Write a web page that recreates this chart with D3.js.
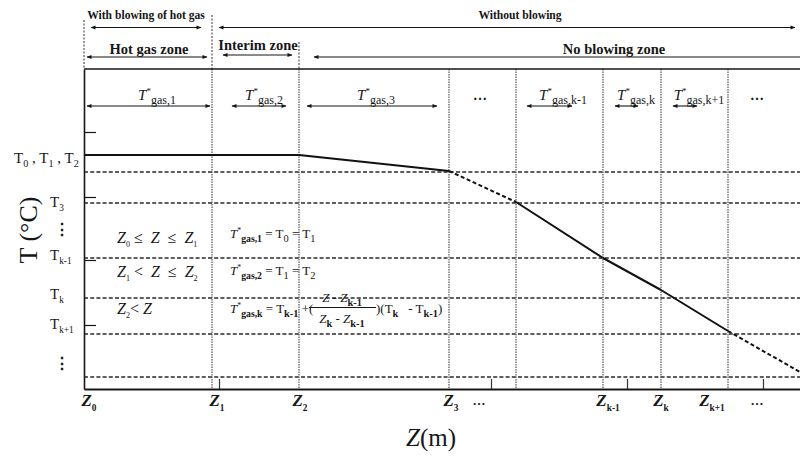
<!DOCTYPE html>
<html>
<head>
<meta charset="utf-8">
<script src="https://cdn.jsdelivr.net/npm/d3@7/dist/d3.min.js"></script>
<style>
  html, body { margin: 0; padding: 0; background: #fff; }
  svg { display: block; }
  text { font-family: 'Liberation Serif', 'Times New Roman', serif; fill: #161616; white-space: pre; }
</style>
</head>
<body>
<svg id="chart" width="800" height="459"></svg>
<script>
// ---------------- data (schematic units) ----------------
const boundaryZ = [0, 1.28, 2.15, 3.65, 4.32, 5.19, 5.77, 6.44];
const zLabelNames = ["Z", "Z", "Z", "Z", "Z", "Z", "Z"];
const zLabelSubs  = ["0", "1", "2", "3", "k-1", "k", "k+1"];
const zLabelAt    = [0.05, 1.33, 2.16, 3.67, 5.24, 5.77, 6.28];
const zEllipsisAt = [3.95, 6.73];
const zMinorTicks = [1.35, 4.07, 5.43, 6.79];

const curveZ = [0, 2.15, 3.65, 4.32, 5.19, 5.77, 6.44, 7.16];
const curveT = [23.4, 23.4, 21.8, 18.7, 13.1, 9.9, 5.8, 1.7];
const segDashed = [false, false, true, false, false, false, true];

const levelT = [21.7, 18.6, 13.1, 9.1, 5.5, 1.2];
const yTicks = [25.7, 19.2, 12.9, 6.4];
const yLabelText = ["T0,T1,T2", "T3", "⋮", "Tk-1", "Tk", "Tk+1", "⋮"];
const yLabelAt   = [23.1, 18.7, 16.0, 13.4, 9.5, 6.5, 2.6];

const zoneRow1Labels = ["With blowing of hot gas", "Without blowing"];
const zoneRow1From   = [0.07, 1.35];
const zoneRow1To     = [1.17, 7.11];
const zoneRow1Mid    = [0.62, 4.36];
const zoneRow2Labels = ["Hot gas zone", "Interim zone", "No blowing zone"];
const zoneRow2From   = [0.03, 1.39, 2.30];
const zoneRow2To     = [1.23, 2.08, 7.20];
const zoneRow2Mid    = [0.65, 1.74, 5.30];

const gasSubs = ["gas,1", "gas,2", "gas,3", null, "gas,k-1", "gas,k", "gas,k+1", null];
const gasMid  = [0.73, 1.80, 2.92, 3.96, 4.79, 5.52, 6.15, 6.73];
const gasFrom = [0.03, 1.48, 2.23, null, 4.43, 5.31, 5.89, null];
const gasTo   = [1.26, 2.02, 3.53, null, 4.88, 5.54, 6.13, null];

// ---------------- layout ----------------
const svg = d3.select("#chart");
const padL = 84, padR = 800, padT = 69, padB = 389;
const x = d3.scaleLinear().domain([0, 7.16]).range([padL, padR]);
const y = d3.scaleLinear().domain([0, 32]).range([padB, padT]);
const ink = "#161616";

const defs = svg.append("defs");
defs.append("marker")
  .attr("id", "ah").attr("viewBox", "0 0 10 10").attr("refX", 9).attr("refY", 5)
  .attr("markerWidth", 6).attr("markerHeight", 5).attr("orient", "auto-start-reverse")
  .attr("markerUnits", "userSpaceOnUse")
  .append("path").attr("d", "M0,1 L10,5 L0,9 Z").attr("fill", ink);

function rich(sel, parts, size) {
  let shift = 0;
  parts.forEach(p => {
    const target = p.sub ? size * 0.28 : p.sup ? -size * 0.42 : 0;
    const ts = sel.append("tspan").attr("dy", target - shift).text(p.t);
    shift = target;
    if (p.sub || p.sup) ts.attr("font-size", (p.fs || 0.68) * size);
    if (p.i) ts.attr("font-style", "italic");
    if (p.b) ts.attr("font-weight", "bold");
    if (p.dx) ts.attr("dx", p.dx);
  });
  return sel;
}
function splitT(label) { return [label[0], label.slice(1)]; }

// ---------------- grid ----------------
svg.append("g").selectAll("line").data(levelT).join("line")
  .attr("x1", padL).attr("x2", padR)
  .attr("y1", d => y(d)).attr("y2", d => y(d))
  .attr("stroke", "#2a2a2a").attr("stroke-width", 1.3).attr("stroke-dasharray", "4,2.2");

svg.append("g").selectAll("line").data(boundaryZ.slice(1)).join("line")
  .attr("x1", d => x(d)).attr("x2", d => x(d))
  .attr("y1", padT).attr("y2", padB)
  .attr("stroke", "#555").attr("stroke-width", 1.2).attr("stroke-dasharray", "1.5,1");

const headerTop = [20, 15, 42];
svg.append("g").selectAll("line").data(boundaryZ.slice(0, 3)).join("line")
  .attr("x1", d => x(d)).attr("x2", d => x(d))
  .attr("y1", (d, i) => headerTop[i]).attr("y2", padT)
  .attr("stroke", "#444").attr("stroke-width", 1.1).attr("stroke-dasharray", "2,1.5");

svg.append("line").attr("x1", padL).attr("x2", padR).attr("y1", padT).attr("y2", padT)
  .attr("stroke", ink).attr("stroke-width", 1.6);

// ---------------- axes ----------------
const yAxis = svg.append("g").attr("transform", `translate(${padL},0)`)
  .call(d3.axisLeft(y).tickValues(yTicks).tickSizeInner(-12).tickSizeOuter(0).tickFormat(""));
yAxis.select(".domain").attr("stroke", ink).attr("stroke-width", 1.6);
yAxis.selectAll(".tick line").attr("stroke", ink).attr("stroke-width", 1.2);

const xAxis = svg.append("g").attr("transform", `translate(0,${padB})`)
  .call(d3.axisBottom(x).tickValues(zMinorTicks).tickSizeInner(-10).tickSizeOuter(0).tickFormat(""));
xAxis.select(".domain").attr("stroke", ink).attr("stroke-width", 2);
xAxis.selectAll(".tick line").attr("stroke", "#333").attr("stroke-width", 1.2);

// ---------------- curve ----------------
const pts = curveZ.map((z, i) => [x(z), y(curveT[i])]);
const segs = segDashed.map((d, i) => ({ a: pts[i], b: pts[i + 1], dashed: d }));
svg.append("g").selectAll("line").data(segs).join("line")
  .attr("x1", d => d.a[0]).attr("y1", d => d.a[1])
  .attr("x2", d => d.b[0]).attr("y2", d => d.b[1])
  .attr("stroke", "#111").attr("stroke-width", 2)
  .attr("stroke-dasharray", d => d.dashed ? "4,2.5" : null);

// ---------------- headers ----------------
function arrow(x1, x2, yy, heads) {
  const l = svg.append("line").attr("x1", x1).attr("x2", x2).attr("y1", yy).attr("y2", yy)
    .attr("stroke", ink).attr("stroke-width", 1.1);
  if (heads !== "right") l.attr("marker-start", "url(#ah)");
  if (heads !== "left") l.attr("marker-end", "url(#ah)");
}
zoneRow1Labels.forEach((t, i) => {
  svg.append("text").attr("x", x(zoneRow1Mid[i])).attr("y", 19).attr("text-anchor", "middle")
    .attr("font-size", 11.6).attr("font-weight", "bold").text(t);
  arrow(x(zoneRow1From[i]), x(zoneRow1To[i]), 27.5, "both");
});
const row2TextY = [54, 50, 54], row2ArrowY = [57, 55, 57];
zoneRow2Labels.forEach((t, i) => {
  svg.append("text").attr("x", x(zoneRow2Mid[i])).attr("y", row2TextY[i]).attr("text-anchor", "middle")
    .attr("font-size", 14.5).attr("font-weight", "bold").text(t);
  arrow(x(zoneRow2From[i]), x(zoneRow2To[i]), row2ArrowY[i], i === 2 ? "left" : "both");
});

const gasParts = sub => [{ t: "T", i: true }, { t: "*", sup: true, fs: 0.6 }, { t: sub, sub: true, fs: 0.8 }];

gasMid.forEach((m, i) => {
  if (gasSubs[i] === null) {
    svg.append("text").attr("x", x(m)).attr("y", 100).attr("text-anchor", "middle")
      .attr("font-size", 14).attr("font-weight", "bold").text("…");
    return;
  }
  const t = svg.append("text").attr("x", x(m)).attr("y", 100).attr("text-anchor", "middle").attr("font-size", 15);
  rich(t, gasParts(gasSubs[i]), 15);
  arrow(x(gasFrom[i]), x(gasTo[i]), 106, "both");
});

// ---------------- left labels ----------------
yLabelText.forEach((lab, i) => {
  const yy = y(yLabelAt[i]);
  if (lab === "⋮") {
    svg.append("text").attr("x", 62).attr("y", yy + 6).attr("text-anchor", "middle")
      .attr("font-size", 16).attr("font-weight", "bold").text("⋮");
    return;
  }
  if (lab.includes(",")) {
    const t = svg.append("text").attr("x", 14).attr("y", yy + 5).attr("font-size", 15);
    const parts = [];
    lab.split(",").forEach((p, k) => {
      const [a, b] = splitT(p);
      parts.push({ t: a }, { t: b, sub: true });
      if (k < 2) parts.push({ t: " , " });
    });
    rich(t, parts, 15);
    return;
  }
  const [a, b] = splitT(lab);
  const t = svg.append("text").attr("x", 50).attr("y", yy + 5).attr("font-size", 15);
  rich(t, [{ t: a }, { t: b, sub: true, fs: 0.62 }], 15);
});

svg.append("text").attr("transform", `translate(37,230) rotate(-90)`).attr("text-anchor", "middle")
  .attr("font-size", 26).text("T (°C)");

// ---------------- Z axis labels ----------------
zLabelNames.forEach((n, i) => {
  const t = svg.append("text").attr("x", x(zLabelAt[i])).attr("y", 406).attr("text-anchor", "middle")
    .attr("font-size", 17).attr("font-weight", "bold");
  rich(t, [{ t: n, i: true }, { t: zLabelSubs[i], sub: true, fs: 0.55 }], 17);
});
zEllipsisAt.forEach(z => {
  svg.append("text").attr("x", x(z)).attr("y", 405).attr("text-anchor", "middle")
    .attr("font-size", 13).attr("font-weight", "bold").text("…");
});
const zt = svg.append("text").attr("x", 431).attr("y", 446).attr("text-anchor", "middle").attr("font-size", 25);
rich(zt, [{ t: "Z", i: true }, { t: "(m)" }], 25);

// ---------------- conditions & equations ----------------
const c1 = svg.append("text").attr("x", 117).attr("y", 243).attr("font-size", 16);
rich(c1, [{ t: "Z", i: true }, { t: "0", sub: true, fs: 0.5 }, { t: " ≤  " }, { t: "Z", i: true }, { t: "  ≤  " }, { t: "Z", i: true }, { t: "1", sub: true, fs: 0.5 }], 16);
const c2 = svg.append("text").attr("x", 117).attr("y", 277).attr("font-size", 16);
rich(c2, [{ t: "Z", i: true }, { t: "1", sub: true, fs: 0.5 }, { t: " <  " }, { t: "Z", i: true }, { t: "  ≤  " }, { t: "Z", i: true }, { t: "2", sub: true, fs: 0.5 }], 16);
const c3 = svg.append("text").attr("x", 117).attr("y", 314).attr("font-size", 16);
rich(c3, [{ t: "Z", i: true }, { t: "2", sub: true, fs: 0.5 }, { t: "< " }, { t: "Z", i: true }], 16);

const eqGas = sub => [{ t: "T", i: true }, { t: "*", sup: true, fs: 0.6 }, { t: sub, sub: true, fs: 0.75, b: true }];
const e1 = svg.append("text").attr("x", 230).attr("y", 238).attr("font-size", 13);
rich(e1, [...eqGas("gas,1"), { t: " = T" }, { t: "0", sub: true, fs: 0.8 }, { t: " = T" }, { t: "1", sub: true, fs: 0.8 }], 13);
const e2 = svg.append("text").attr("x", 230).attr("y", 275).attr("font-size", 13);
rich(e2, [...eqGas("gas,2"), { t: " = T" }, { t: "1", sub: true, fs: 0.8 }, { t: " = T" }, { t: "2", sub: true, fs: 0.8 }], 13);
const e3 = svg.append("text").attr("x", 230).attr("y", 313).attr("font-size", 13);
rich(e3, [...eqGas("gas,k"), { t: " = T" }, { t: "k-1", sub: true, fs: 0.8, b: true }, { t: " +(" }], 13);
const num = svg.append("text").attr("x", 342).attr("y", 302).attr("text-anchor", "middle").attr("font-size", 13);
rich(num, [{ t: "Z", i: true }, { t: " - " }, { t: "Z", i: true }, { t: "k-1", sub: true, fs: 0.8, b: true }], 13);
svg.append("line").attr("x1", 309).attr("x2", 376).attr("y1", 307.5).attr("y2", 307.5).attr("stroke", ink).attr("stroke-width", 1);
const den = svg.append("text").attr("x", 342).attr("y", 323).attr("text-anchor", "middle").attr("font-size", 13);
rich(den, [{ t: "Z", i: true }, { t: "k", sub: true, fs: 0.8, b: true }, { t: " - " }, { t: "Z", i: true }, { t: "k-1", sub: true, fs: 0.8, b: true }], 13);
const e3b = svg.append("text").attr("x", 376).attr("y", 313).attr("font-size", 13);
rich(e3b, [{ t: ")(T" }, { t: "k", sub: true, fs: 0.8, b: true }, { t: "   - T" }, { t: "k-1", sub: true, fs: 0.8, b: true }, { t: ")" }], 13);
</script>
</body>
</html>
